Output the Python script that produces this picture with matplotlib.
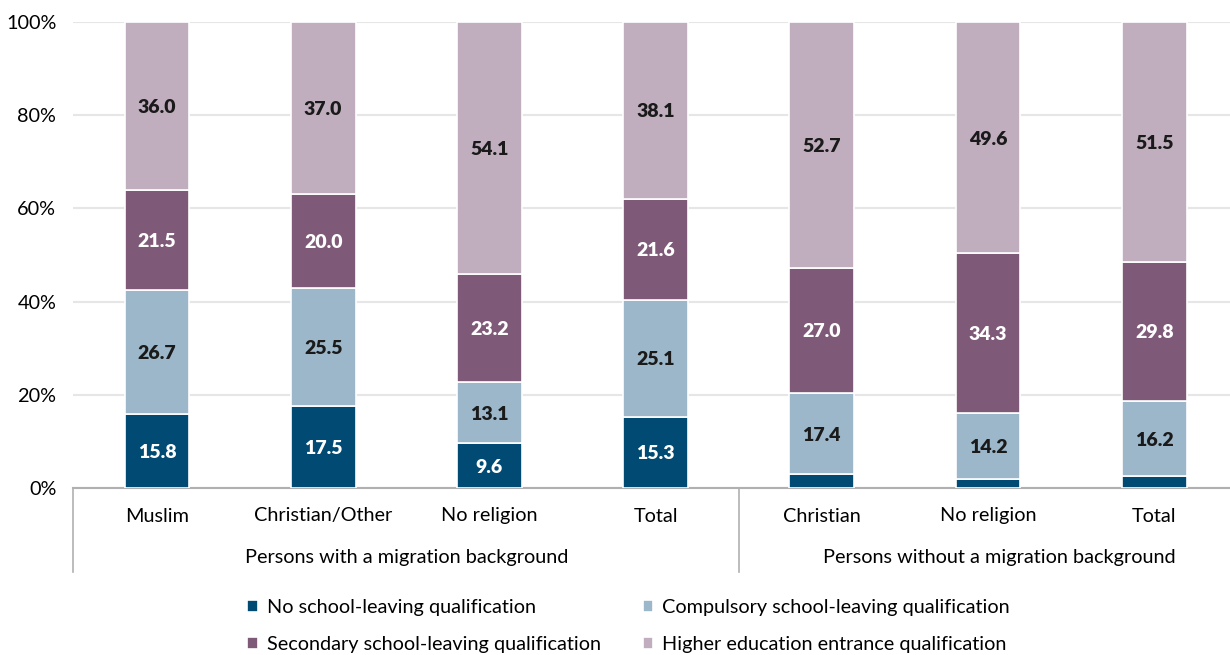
import numpy as np
import matplotlib
matplotlib.use("Agg")
import matplotlib.pyplot as plt
from matplotlib.transforms import blended_transform_factory

plt.rcParams['font.family'] = ['Lato', 'DejaVu Sans']

categories = ['Muslim', 'Christian/Other', 'No religion', 'Total',
              'Christian', 'No religion', 'Total']
groups = ['Persons with a migration background', 'Persons without a migration background']

no_qual = [15.8, 17.5, 9.6, 15.3, 2.9, 1.9, 2.5]
compulsory = [26.7, 25.5, 13.1, 25.1, 17.4, 14.2, 16.2]
secondary = [21.5, 20.0, 23.2, 21.6, 27.0, 34.3, 29.8]
higher = [36.0, 37.0, 54.1, 38.1, 52.7, 49.6, 51.5]

series = ['No school-leaving qualification', 'Compulsory school-leaving qualification',
          'Secondary school-leaving qualification', 'Higher education entrance qualification']
colors = ['#004a74', '#9cb7ca', '#7f5a78', '#c0aebe']
text_colors = ['white', '#1a1a1a', 'white', '#1a1a1a']

fs = 14.3

fig = plt.figure(figsize=(12.3, 6.55), dpi=100)
ax = fig.add_axes([73/1230, 1 - 488/655, 1 - 73/1230, (488 - 22)/655])

x = np.arange(len(categories))
bottom = np.zeros(len(categories))
for vals, c, tc, name in zip([no_qual, compulsory, secondary, higher], colors, text_colors, series):
    vals = np.array(vals)
    ax.bar(x, vals, 0.39, bottom=bottom, color=c, edgecolor='white', linewidth=1.2,
           label=name, zorder=3)
    for xi, b, v in zip(x, bottom, vals):
        if v >= 5:
            ax.text(xi, b + v / 2, f'{v:.1f}', ha='center', va='center_baseline', color=tc,
                    fontsize=14, fontweight='heavy', zorder=4)
    bottom += vals

ax.set_xlim(-0.505, 6.456)
ax.set_ylim(0, 100)
ax.set_yticks(np.arange(0, 101, 20))
ax.set_yticklabels([f'{t}%' for t in range(0, 101, 20)], fontsize=fs)
ax.yaxis.grid(True, color='#e6e6e6', linewidth=1.5, zorder=0)
ax.set_axisbelow(True)
for s in ['top', 'right', 'left']:
    ax.spines[s].set_visible(False)
ax.spines['bottom'].set_color('#b0b0b0')
ax.spines['bottom'].set_linewidth(1.5)
ax.tick_params(axis='y', length=0, pad=12)
ax.set_xticks([])

trans = blended_transform_factory(ax.transData, fig.transFigure)
for xi, lab in zip(x, categories):
    ax.text(xi, 1 - 516/655, lab, transform=trans, ha='center', va='center', fontsize=fs)
ax.text(1.5, 1 - 557/655, groups[0], transform=trans, ha='center', va='center', fontsize=fs)
ax.text(5.07, 1 - 557/655, groups[1], transform=trans, ha='center', va='center', fontsize=fs)
for xs in [-0.505, 3.5]:
    ax.plot([xs, xs], [1 - 488/655, 1 - 572/655], transform=trans, color='#b0b0b0',
            linewidth=1.2, clip_on=False)

handles, labels = ax.get_legend_handles_labels()
order = [0, 2, 1, 3]
fig.legend([handles[i] for i in order], [labels[i] for i in order], ncol=2,
           loc='center', bbox_to_anchor=(0.511, 1 - 626/655), frameon=False, fontsize=fs,
           handlelength=0.55, handleheight=0.55, handletextpad=0.45, columnspacing=2.1,
           labelspacing=1.0)

fig.savefig('out.png', dpi=100)
